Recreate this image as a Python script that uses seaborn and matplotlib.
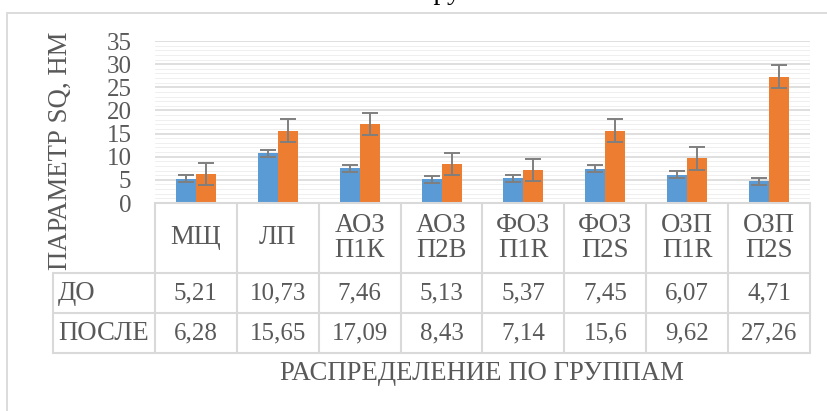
import matplotlib
matplotlib.use("Agg")
import matplotlib.pyplot as plt
import matplotlib.transforms as mtransforms
from matplotlib.patches import Rectangle
from matplotlib.ticker import MultipleLocator
import numpy as np
import pandas as pd
import seaborn as sns

# --- data -------------------------------------------------------------
groups = ["МЩ", "ЛП", "АОЗ\nП1К", "АОЗ\nП2В", "ФОЗ\nП1R", "ФОЗ\nП2S", "ОЗП\nП1R", "ОЗП\nП2S"]
series_names = ["ДО", "ПОСЛЕ"]
values_before = [5.21, 10.73, 7.46, 5.13, 5.37, 7.45, 6.07, 4.71]
values_after = [6.28, 15.65, 17.09, 8.43, 7.14, 15.6, 9.62, 27.26]
err_before = [0.75, 0.75, 0.75, 0.75, 0.75, 0.75, 0.75, 0.75]
err_after = [2.45, 2.45, 2.45, 2.45, 2.45, 2.45, 2.45, 2.45]
label_before = ["5,21", "10,73", "7,46", "5,13", "5,37", "7,45", "6,07", "4,71"]
label_after = ["6,28", "15,65", "17,09", "8,43", "7,14", "15,6", "9,62", "27,26"]
y_ticks = [0, 5, 10, 15, 20, 25, 30, 35]

df = pd.DataFrame({
    "group": groups * 2,
    "period": [series_names[0]] * len(groups) + [series_names[1]] * len(groups),
    "value": values_before + values_after,
})

# --- style ------------------------------------------------------------
sns.set_theme(style="white")
plt.rcParams["font.family"] = ["Liberation Serif", "DejaVu Serif"]
TEXT = "#595959"
LINE = "#d9d9d9"
FS_NUM = 18
FS_TXT = 19.3

W, H = 828, 411
fig = plt.figure(figsize=(W / 100, H / 100), dpi=100)

def fx(px):
    return px / W

def fy(py):
    return 1 - py / H

# plot area in pixel terms
L, R, T, B = 155, 810, 41, 203
ax = fig.add_axes([fx(L), fy(B), fx(R - L), fy(T) - fy(B)])

sns.barplot(data=df, x="group", y="value", hue="period", order=groups,
            hue_order=series_names, palette=["#5B9BD5", "#ED7D31"],
            width=0.49, saturation=1, linewidth=0, errorbar=None,
            legend=False, ax=ax, zorder=3)

# error bars at the centre of each bar
for cont, errs in zip(ax.containers, [err_before, err_after]):
    xs = [p.get_x() + p.get_width() / 2 for p in cont]
    ys = [p.get_height() for p in cont]
    ax.errorbar(xs, ys, yerr=errs, fmt="none", ecolor="#7f7f7f",
                elinewidth=1.4, capsize=5.8, capthick=1.4, zorder=4)

ax.set_xlim(-0.5, len(groups) - 0.5)
ax.set_ylim(0, 35)
ax.set_yticks(y_ticks)
ax.set_yticklabels([str(t) for t in y_ticks])
ax.yaxis.set_minor_locator(MultipleLocator(1))
ax.grid(axis="y", which="major", color=LINE, lw=1.2, zorder=1)
ax.grid(axis="y", which="minor", color="#efefef", lw=0.7, zorder=0)
ax.set_axisbelow(True)
ax.tick_params(axis="y", which="both", length=0, pad=17, labelsize=FS_NUM,
               labelcolor=TEXT)
ax.tick_params(axis="x", length=0, labelbottom=False)
ax.set_xlabel("")
ax.set_ylabel("")
for s in ax.spines.values():
    s.set_visible(False)

# --- data table under the plot ----------------------------------------
trans = mtransforms.blended_transform_factory(ax.transData, ax.transAxes)
ph = B - T

def ay(py):
    return (B - py) / ph

row_edges = [203, 273, 313, 353]
left_label_x = -0.5 - (L - 53) / ((R - L) / len(groups))
n = len(groups)
lk = dict(color=LINE, lw=1.5, transform=trans, clip_on=False, zorder=5)

# horizontal lines
ax.plot([-0.5, n - 0.5], [ay(row_edges[0])] * 2, **lk)
for py in row_edges[1:]:
    ax.plot([left_label_x, n - 0.5], [ay(py)] * 2, **lk)
# vertical lines
for i in range(n + 1):
    ax.plot([i - 0.5, i - 0.5], [ay(row_edges[0]), ay(row_edges[-1])], **lk)
ax.plot([left_label_x] * 2, [ay(row_edges[1]), ay(row_edges[-1])], **lk)

tk = dict(transform=trans, clip_on=False, color=TEXT, ha="center", va="center")
for i, g in enumerate(groups):
    ax.text(i, ay(238), g, linespacing=1.0, fontsize=FS_TXT, **tk)
    ax.text(i, ay(293), label_before[i], fontsize=FS_NUM, **tk)
    ax.text(i, ay(333), label_after[i], fontsize=FS_NUM, **tk)

ax.text(left_label_x + 0.06, ay(293), series_names[0], transform=trans,
        clip_on=False, color=TEXT, fontsize=FS_TXT, ha="left", va="center")
ax.text(left_label_x + 0.06, ay(333), series_names[1], transform=trans,
        clip_on=False, color=TEXT, fontsize=FS_TXT, ha="left", va="center")

# axis titles
fig.text(fx(482), fy(373), "РАСПРЕДЕЛЕНИЕ ПО ГРУППАМ", color=TEXT,
         fontsize=FS_TXT, ha="center", va="center")
fig.text(fx(60), fy(151), "ПАРАМЕТР SQ, НМ", color=TEXT, fontsize=FS_TXT,
         rotation=90, ha="center", va="center")

# caption line above the chart frame
fig.text(fx(422), fy(-1), "группам", color="black", fontsize=20,
         ha="left", va="baseline")

# chart frame
fig.patches.append(Rectangle((fx(7), fy(430)), fx(840), fy(13) - fy(430),
                             transform=fig.transFigure, fill=False,
                             edgecolor=LINE, lw=1.3))

fig.savefig("out.png", dpi=100)
